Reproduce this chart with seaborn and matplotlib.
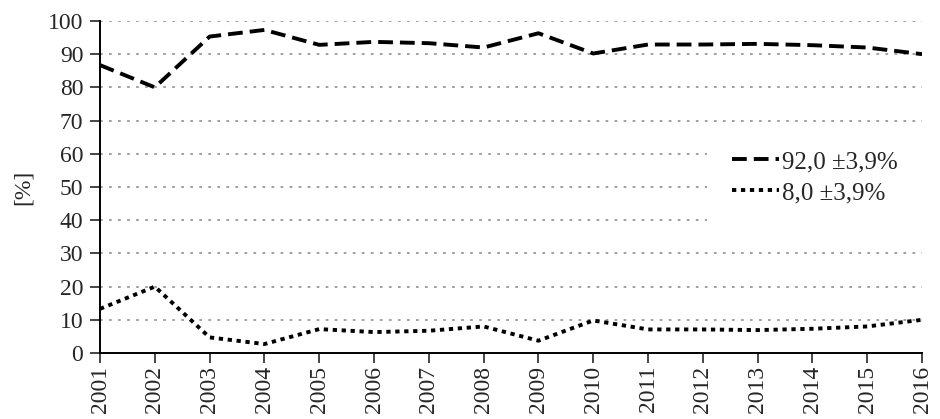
import pandas as pd
import seaborn as sns
import matplotlib.pyplot as plt

years = list(range(2001, 2017))
share_major = [86.7, 80.0, 95.3, 97.3, 92.8, 93.7, 93.3, 92.0,
               96.3, 90.2, 92.9, 92.9, 93.1, 92.7, 92.0, 90.0]
share_minor = [13.3, 20.0, 4.7, 2.7, 7.2, 6.3, 6.7, 8.0,
               3.7, 9.8, 7.1, 7.1, 6.9, 7.3, 8.0, 10.0]
labels = ["92,0 \u00b13,9%", "8,0 \u00b13,9%"]

df = pd.DataFrame({
    "year": years * 2,
    "value": share_major + share_minor,
    "series": [labels[0]] * len(years) + [labels[1]] * len(years),
})

sns.set_theme(style="white")
plt.rcParams["font.family"] = ["Liberation Serif", "DejaVu Serif"]

fig = plt.figure(figsize=(9.4, 4.19), dpi=100)
ax = fig.add_axes([0.1064, 0.1575, 0.8745, 0.7925])

sns.lineplot(data=df, x="year", y="value", hue="series", style="series",
             palette=["black", "black"], dashes=[(3.8, 1.8), (1.1, 1.2)],
             linewidth=2.8, ax=ax, legend=True)

ax.set_xlim(2001, 2016)
ax.set_ylim(0, 100)
ax.set_xticks(years)
ax.set_xticklabels([str(y) for y in years], rotation=90, fontsize=17)
ax.set_yticks(range(0, 101, 10))
ax.tick_params(axis="y", labelsize=17, direction="out", length=7, width=1.2, left=True, pad=5)
ax.tick_params(axis="x", direction="out", length=7, width=1.2, bottom=True, pad=2)
ax.yaxis.grid(True, color="#999999", linestyle=(0, (1.5, 3.5)), linewidth=1.3)
ax.set_axisbelow(True)

for side in ["top", "right"]:
    ax.spines[side].set_visible(False)
for side in ["left", "bottom"]:
    ax.spines[side].set_color("black")
    ax.spines[side].set_linewidth(1.4)

ax.set_xlabel("")
ax.set_ylabel("[%]", fontsize=17, labelpad=10)

leg = ax.legend(loc="center left", bbox_to_anchor=(0.723, 0.529), frameon=True,
                facecolor="white", edgecolor="none", framealpha=1.0,
                fontsize=18, handlelength=1.9, handletextpad=0.1,
                labelspacing=0.35, borderpad=1.0)

fig.savefig("out.png", dpi=100)
